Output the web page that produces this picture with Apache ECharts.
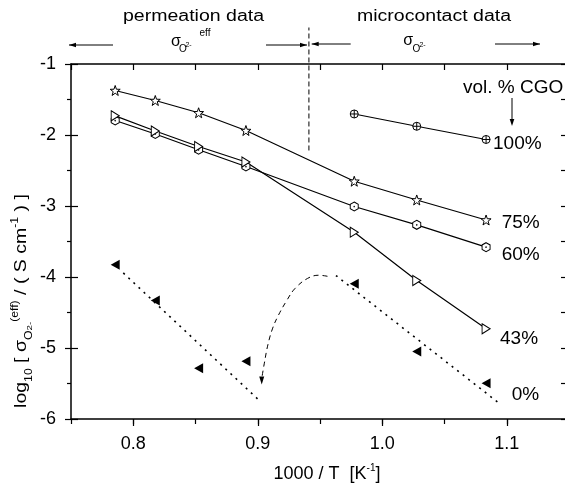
<!DOCTYPE html>
<html><head><meta charset="utf-8">
<script src="https://cdn.jsdelivr.net/npm/echarts@6/dist/echarts.min.js"></script>
<style>html,body{margin:0;padding:0;background:#fff}#c{width:565px;height:484px}</style>
</head><body><div id="c"></div>
<script>
// 1000/T values (K^-1) for 1000..650 °C in 50 K steps (gap at 800 °C)
const invT      = [0.7855, 0.8177, 0.8525, 0.8905, 0.9775, 1.0277, 1.0834];
const invTMicro = [0.9775, 1.0277, 1.0834];
// log10 conductivity per vol.% CGO
const cgo100 = [-1.704, -1.877, -2.063];
const cgo75  = [-1.373, -1.514, -1.687, -1.937, -2.651, -2.915, -3.197];
const cgo60  = [-1.796, -1.986, -2.208, -2.444, -3.007, -3.265, -3.580];
const cgo43  = [-1.730, -1.944, -2.162, -2.380, -3.369, -4.049, -4.730];
const cgo0   = [-3.828, -4.331, -5.285, -5.186, -4.096, -5.049, -5.496];
// guide lines (data coordinates)
const trendPerm  = [[0.792, -3.943], [0.9005, -5.727]];
const trendMicro = [[0.9628, -3.979], [1.0938, -5.777]];
const curveArrow = [[0.9560,-3.990],[0.9490,-3.975],[0.9400,-4.020],[0.9300,-4.160],[0.9233,-4.331],[0.9165,-4.542],[0.9120,-4.720],[0.9082,-4.950],[0.9052,-5.223],[0.9032,-5.430]];
const dividerX = 0.9411;
const dividerY = [-2.218, -0.486];
// ticks
const xTickLabels = [0.8, 0.9, 1.0, 1.1];
const seriesLabels = ['100%', '75%', '60%', '43%', '0%'];

const FF = 'Liberation Sans, Arial, Helvetica, sans-serif';
const pts = (xs, ys) => xs.map((x, i) => [x, ys[i]]);

const STAR = 'path://M10,0 L12.35,6.76 L19.51,6.91 L13.8,11.24 L15.88,18.09 L10,14 L4.12,18.09 L6.2,11.24 L0.49,6.91 L7.65,6.76 Z';
const HEX = 'path://M8.66,0 L17.32,5 L17.32,15 L8.66,20 L0,15 L0,5 Z M9.4,10 A0.74,0.74 0 1,1 7.92,10 A0.74,0.74 0 1,1 9.4,10 Z';
const OPLUS = 'path://M0,5 A5,5 0 1,1 10,5 A5,5 0 1,1 0,5 Z M5,0 L5,10 M0,5 L10,5';
const TRI_R = 'path://M0,0 L9,5 L0,10 Z';
const TRI_L = 'path://M9,0 L0,5 L9,10 Z';
const TRI_D = 'path://M0,0 L5,10 L10,0 Z';

function lineSeries(name, data, symbol, size) {
  return {
    name, type: 'line', data, symbol, symbolSize: size, showSymbol: true,
    lineStyle: { color: '#000', width: 1.2 },
    itemStyle: { color: '#fff', borderColor: '#000', borderWidth: 1 },
    z: 3
  };
}
function guide(data, type, width, smooth) {
  return { type: 'line', data, symbol: 'none', smooth: smooth || false, clip: false, silent: true,
    lineStyle: { color: '#000', width, type }, z: 2 };
}

const chart = echarts.init(document.getElementById('c'), null, { renderer: 'canvas' });

function txt(x, y, text, size, opts) {
  opts = opts || {};
  return {
    type: 'text', x, y, scaleX: opts.sx || 1, rotation: opts.rot || 0,
    style: { text, fontSize: size, fontFamily: FF, fill: '#000',
      textAlign: opts.align || 'center', textVerticalAlign: 'middle',
      align: opts.align || 'center', verticalAlign: 'middle', rich: opts.rich }
  };
}
function arrowH(x1, x2, y, headAt) {
  const h = headAt;
  const dir = (h === x1) ? 1 : -1;
  return [
    { type: 'line', shape: { x1, y1: y, x2, y2: y }, style: { stroke: '#000', lineWidth: 1 } },
    { type: 'polygon', shape: { points: [[h, y], [h + dir * 7, y - 2.3], [h + dir * 7, y + 2.3]] }, style: { fill: '#000' } }
  ];
}

const richY = {
  m: { fontSize: 16, fontFamily: FF, lineHeight: 24 },
  s: { fontSize: 10, fontFamily: FF, lineHeight: 10, verticalAlign: 'bottom' },
  q: { fontSize: 8, fontFamily: FF, lineHeight: 14, verticalAlign: 'bottom' },
  p: { fontSize: 10, fontFamily: FF, lineHeight: 10, verticalAlign: 'top' }
};

const option = {
  animation: false,
  backgroundColor: '#fff',
  grid: { left: 71, top: 64, width: 498, height: 355, outerBoundsMode: 'none', containLabel: false },
  xAxis: [
    { type: 'value', position: 'bottom', min: 0.75, max: 1.15, interval: 0.05,
      axisLine: { lineStyle: { color: '#000', width: 1.5 } },
      axisTick: { show: true, length: 5, lineStyle: { color: '#000', width: 1.2 } },
      axisLabel: { customValues: xTickLabels, formatter: v => v.toFixed(1), fontSize: 18, fontFamily: FF, color: '#000', margin: 16 },
      splitLine: { show: false } },
    { type: 'value', position: 'bottom', min: 0.75, max: 1.15,
      axisLine: { show: false },
      axisTick: { show: true, customValues: xTickLabels, length: 7, lineStyle: { color: '#000', width: 1.2 } },
      axisLabel: { show: false }, splitLine: { show: false } },
    { type: 'value', position: 'top', min: 0.75, max: 1.15, interval: 0.05,
      axisLine: { lineStyle: { color: '#000', width: 1.5 } },
      axisTick: { show: true, inside: true, length: 6, lineStyle: { color: '#000', width: 1.2 } },
      axisLabel: { show: false }, splitLine: { show: false } }
  ],
  yAxis: [
    { type: 'value', position: 'left', min: -6, max: -1, interval: 1,
      axisLine: { lineStyle: { color: '#000', width: 1.5 } },
      axisTick: { show: true, length: 6, lineStyle: { color: '#000', width: 1.2 } },
      minorTick: { show: true, splitNumber: 2, length: 4, lineStyle: { color: '#000', width: 1.2 } },
      axisLabel: { fontSize: 18, fontFamily: FF, color: '#000', margin: 15 },
      splitLine: { show: false } },
    { type: 'value', position: 'left', min: -6, max: -1, interval: 1,
      axisLine: { show: false },
      axisTick: { show: true, inside: true, length: 7, lineStyle: { color: '#000', width: 1.2 } },
      axisLabel: { show: false }, splitLine: { show: false } },
    { type: 'value', position: 'right', min: -6, max: -1, interval: 0.5,
      axisLine: { lineStyle: { color: '#000', width: 1.5 } },
      axisTick: { show: true, inside: true, length: 8, lineStyle: { color: '#000', width: 1.2 } },
      axisLabel: { show: false }, splitLine: { show: false } }
  ],
  series: [
    lineSeries('100%', pts(invTMicro, cgo100), OPLUS, 8),
    lineSeries('75%', pts(invT, cgo75), STAR, 10),
    lineSeries('60%', pts(invT, cgo60), HEX, [8, 9]),
    lineSeries('43%', pts(invT, cgo43), TRI_R, [8, 10]),
    { name: '0%', type: 'scatter', data: pts(invT, cgo0), symbol: TRI_L, symbolSize: [9, 10],
      itemStyle: { color: '#000', opacity: 1 }, z: 3 },
    guide(trendPerm, [2, 5], 1.6),
    guide(trendMicro, [2, 5], 1.6),
    guide(curveArrow, [5, 4], 1, 0.4),
    { type: 'scatter', data: [curveArrow[curveArrow.length - 1]], symbol: TRI_D, symbolSize: [5, 8],
      symbolOffset: [0, 2], itemStyle: { color: '#000', opacity: 1 }, silent: true, z: 3 },
    guide([[dividerX, dividerY[0]], [dividerX, dividerY[1]]], [5, 3], 1)
  ],
  graphic: [
    txt(193.5, 17, 'permeation data', 16, { sx: 1.22 }),
    txt(434, 17, 'microcontact data', 16, { sx: 1.22 }),
    txt(176, 41.5, 'σ', 16),
    txt(183, 49, 'O', 10),
    txt(188.5, 45, '2-', 7),
    txt(205, 33, 'eff', 10),
    txt(408.3, 41, 'σ', 16),
    txt(416.3, 49, 'O', 10),
    txt(422.5, 44.7, '2-', 7),
    ...arrowH(69, 113, 45, 69),
    ...arrowH(266, 307, 45, 307),
    ...arrowH(311.7, 350.7, 44, 311.7),
    ...arrowH(495, 540, 44, 540),
    txt(463, 88, 'vol. % CGO', 19, { align: 'left' }),
    { type: 'line', shape: { x1: 512, y1: 98, x2: 512, y2: 119 }, style: { stroke: '#000', lineWidth: 1 } },
    { type: 'polygon', shape: { points: [[512, 126], [509.7, 119], [514.3, 119]] }, style: { fill: '#000' } },
    txt(493, 143.3, seriesLabels[0], 19, { align: 'left' }),
    txt(501.7, 223, seriesLabels[1], 19, { align: 'left' }),
    txt(501.7, 255, seriesLabels[2], 19, { align: 'left' }),
    txt(500, 339, seriesLabels[3], 19, { align: 'left' }),
    txt(511.7, 395, seriesLabels[4], 19, { align: 'left' }),
    txt(327, 474, '{m|1000 / T  [K}{p|-1}{m|]}', 18, { rich: {
      m: { fontSize: 18, fontFamily: FF, lineHeight: 22 },
      p: { fontSize: 10, fontFamily: FF, lineHeight: 10, verticalAlign: 'top' } } }),
    txt(22, 301, '{m|log}{s|10}{m| [ σ}{s|O}{q|2-}{p|(eff)}{m| / ( S cm}{p|-1}{m| ) ]}', 16,
      { rot: Math.PI / 2, sx: 1.22, rich: richY })
  ]
};
chart.setOption(option);
</script></body></html>
